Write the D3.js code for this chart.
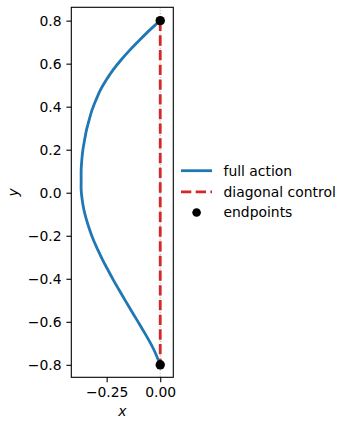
<!DOCTYPE html>
<html>
<head>
<meta charset="utf-8">
<script src="https://cdn.jsdelivr.net/npm/d3@7"></script>
<style>
body { margin: 0; background: white; }
svg { font-family: "DejaVu Sans", sans-serif; }
</style>
</head>
<body>
<div id="chart"></div>
<script>
// curve (x, y)
var fullX = [0, -0.048, -0.096, -0.141, -0.183, -0.220, -0.252, -0.279, -0.300, -0.318, -0.332, -0.344, -0.353, -0.361, -0.366, -0.369, -0.369, -0.369, -0.364, -0.356, -0.344, -0.329, -0.312, -0.291, -0.269, -0.244, -0.219, -0.192, -0.165, -0.137, -0.109, -0.081, -0.054, -0.029, 0];
var fullY = [0.8, 0.757, 0.710, 0.664, 0.617, 0.571, 0.524, 0.478, 0.431, 0.385, 0.338, 0.292, 0.245, 0.199, 0.152, 0.106, 0.060, 0.013, -0.034, -0.080, -0.126, -0.173, -0.219, -0.266, -0.312, -0.359, -0.405, -0.452, -0.498, -0.545, -0.591, -0.638, -0.684, -0.731, -0.8];
var diagX = [0, 0];
var diagY = [0.8, -0.8];
var endX = [0, 0];
var endY = [0.8, -0.8];
var xTicks = [-0.25, 0.00];
var yTicks = [-0.8, -0.6, -0.4, -0.2, 0.0, 0.2, 0.4, 0.6, 0.8];
var legendLabels = ["full action", "diagonal control", "endpoints"];

var W = 341, H = 422;
var margin = {top: 7.3, left: 71.3, right: 341 - 173.3, bottom: 422 - 377.3},
	width = W - margin.left - margin.right,
	height = H - margin.top - margin.bottom;

var svg = d3.select("#chart")
	.append("svg")
	.attr("width", W)
	.attr("height", H);

var g = svg.append("g")
	.attr("transform", "translate(" + margin.left + "," + margin.top + ")");

var x = d3.scaleLinear().domain([-0.415, 0.061]).range([0, width]);
var y = d3.scaleLinear().domain([-0.858, 0.862]).range([height, 0]);

var fmtY = d => d3.format(".1f")(d).replace("-", "\u2212");
var fmtX = d => d3.format(".2f")(d).replace("-", "\u2212");

// axes
var xAxis = g.append("g")
	.attr("transform", "translate(0," + height + ")")
	.call(d3.axisBottom(x).tickValues(xTicks).tickFormat(fmtX).tickSize(4.9).tickPadding(4.9));
var yAxis = g.append("g")
	.call(d3.axisLeft(y).tickValues(yTicks).tickFormat(fmtY).tickSize(4.9).tickPadding(4.9));
[xAxis, yAxis].forEach(a => {
	a.select(".domain").remove();
	a.selectAll("line").attr("stroke", "#000").attr("stroke-width", 1.1);
	a.selectAll("text").attr("fill", "#000").style("font-size", "13.9px").attr("font-family", "DejaVu Sans");
});

// vertical reference at x=0
g.append("line")
	.attr("x1", x(0)).attr("x2", x(0))
	.attr("y1", 0).attr("y2", height)
	.attr("stroke", "#808080")
	.attr("stroke-width", 1.1)
	.attr("stroke-dasharray", "1.1,1.8")
	.attr("opacity", 0.6);

var line = d3.line()
	.x(d => x(d[0]))
	.y(d => y(d[1]))
	.curve(d3.curveCatmullRom);

g.append("path")
	.datum(d3.zip(fullX, fullY))
	.attr("d", line)
	.attr("fill", "none")
	.attr("stroke", "#1f77b4")
	.attr("stroke-width", 2.8);

g.append("path")
	.datum(d3.zip(diagX, diagY))
	.attr("d", d3.line().x(d => x(d[0])).y(d => y(d[1])))
	.attr("fill", "none")
	.attr("stroke", "#d62728")
	.attr("stroke-width", 2.8)
	.attr("stroke-dasharray", "10.3,4.4");

g.selectAll(".endpt")
	.data(d3.zip(endX, endY))
	.enter()
	.append("circle")
	.attr("class", "endpt")
	.attr("cx", d => x(d[0]))
	.attr("cy", d => y(d[1]))
	.attr("r", 4.7)
	.attr("fill", "#000");

// frame
g.append("rect")
	.attr("width", width).attr("height", height)
	.attr("fill", "none")
	.attr("stroke", "#000")
	.attr("stroke-width", 1.1);

// axis labels
svg.append("text")
	.attr("x", margin.left + width / 2)
	.attr("y", 416)
	.attr("text-anchor", "middle")
	.attr("font-style", "italic")
	.style("font-size", "13.9px")
	.text("x");
svg.append("text")
	.attr("transform", "translate(18," + (margin.top + height / 2) + ")rotate(-90)")
	.attr("text-anchor", "middle")
	.attr("font-style", "italic")
	.style("font-size", "13.9px")
	.text("y");

// legend
var leg = svg.append("g").attr("transform", "translate(181,0)");
var rows = [170.7, 191.9, 212.5];
leg.append("line").attr("x1", 0).attr("x2", 31).attr("y1", rows[0]).attr("y2", rows[0])
	.attr("stroke", "#1f77b4").attr("stroke-width", 2.8);
leg.append("line").attr("x1", 0).attr("x2", 31).attr("y1", rows[1]).attr("y2", rows[1])
	.attr("stroke", "#d62728").attr("stroke-width", 2.8).attr("stroke-dasharray", "10.3,4.4");
leg.append("circle").attr("cx", 15.6).attr("cy", rows[2]).attr("r", 4.3).attr("fill", "#000");
leg.selectAll(".lt")
	.data(legendLabels)
	.enter()
	.append("text")
	.attr("x", 42.5)
	.attr("y", (d, i) => rows[i])
	.attr("dy", "0.35em")
	.style("font-size", "13.9px")
	.text(d => d);
</script>
</body>
</html>
